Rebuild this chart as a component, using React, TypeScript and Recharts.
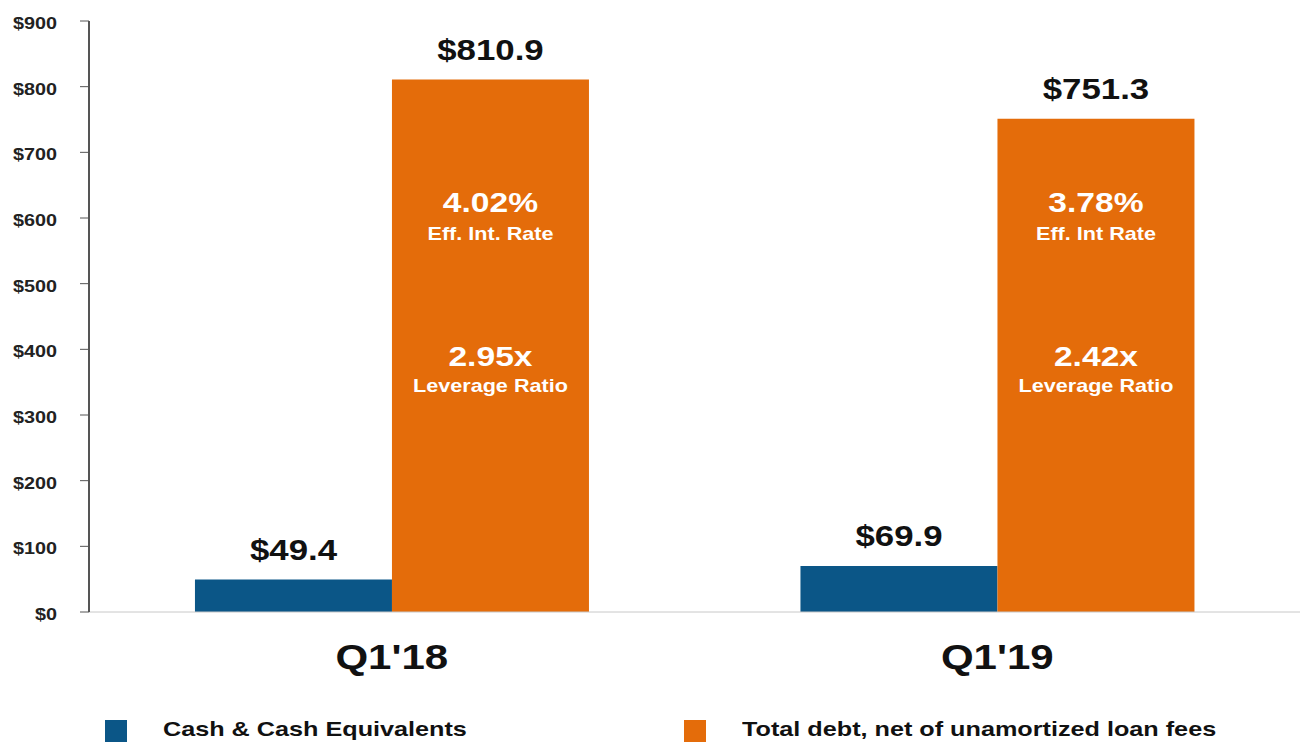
import React from 'react';
import { BarChart, Bar, XAxis, YAxis, LabelList } from 'recharts';

const quarters = ["Q1'18", "Q1'19"];
const cashValues = [49.4, 69.9];
const debtValues = [810.9, 751.3];
const rateLabels = ['4.02%', '3.78%'];
const rateCaptions = ['Eff. Int. Rate', 'Eff. Int Rate'];
const leverageLabels = ['2.95x', '2.42x'];
const leverageCaption = 'Leverage Ratio';
const yTicks = [0, 100, 200, 300, 400, 500, 600, 700, 800, 900];

const BLUE = '#0b5687';
const ORANGE = '#e46c0a';
const FONT = 'Liberation Sans, Arial, sans-serif';
const STRETCH = 1.2; // the source text is drawn a bit wide

const data = quarters.map((q, i) => ({
  quarter: q,
  cash: cashValues[i],
  debt: debtValues[i],
  rate: rateLabels[i],
  rateCaption: rateCaptions[i],
  leverage: leverageLabels[i],
}));

const WideText = ({ x, y, size, fill = '#111', anchor = 'middle', children }: any) => (
  <text transform={`translate(${x},${y}) scale(${STRETCH},1)`} textAnchor={anchor}
    fontFamily={FONT} fontWeight="bold" fontSize={size} fill={fill}>
    {children}
  </text>
);

const valueLabel = (props: any) => {
  const { x, y, width, value } = props;
  return <WideText x={x + width / 2} y={y - 20} size={29}>${value.toFixed(1)}</WideText>;
};

const innerLabel = (props: any) => {
  const { x, y, width, height, index } = props;
  const cx = x + width / 2;
  const base = y + height;
  const d = data[index];
  return (
    <g>
      <WideText x={cx} y={base - 400} size={28} fill="#fff">{d.rate}</WideText>
      <WideText x={cx} y={base - 372} size={18} fill="#fff">{d.rateCaption}</WideText>
      <WideText x={cx} y={base - 246} size={28} fill="#fff">{d.leverage}</WideText>
      <WideText x={cx} y={base - 220} size={18} fill="#fff">{leverageCaption}</WideText>
    </g>
  );
};

const YTick = (props: any) => {
  const { x, y, payload } = props;
  return <WideText x={x} y={y + 8} size={16.5} fill="#222" anchor="end">${payload.value}</WideText>;
};

const XTick = (props: any) => {
  const { x, y, payload } = props;
  return <WideText x={x} y={y + 51} size={35}>{payload.value}</WideText>;
};

const legendItems = [
  { label: 'Cash & Cash Equivalents', color: BLUE, left: 105, textLeft: 163 },
  { label: 'Total debt, net of unamortized loan fees', color: ORANGE, left: 684, textLeft: 742 },
];

export default function App() {
  return (
    <div style={{ position: 'absolute', left: 0, top: 0, width: 1302, height: 745, background: '#fff' }}>
      <BarChart width={1302} height={745} data={data}
        margin={{ top: 21, right: 2, left: 0, bottom: 53 }}
        barCategoryGap="17.5%" barGap={0}>
        <XAxis dataKey="quarter" height={80} tickLine={false}
          axisLine={{ stroke: '#c8c8c8', strokeWidth: 1 }}
          tick={<XTick />} tickMargin={0} />
        <YAxis width={89} domain={[0, 900]} ticks={yTicks} interval={0}
          axisLine={{ stroke: '#555', strokeWidth: 2 }}
          tickLine={{ stroke: '#555', strokeWidth: 1 }} tickSize={9} tickMargin={23}
          tick={<YTick />} />
        <Bar dataKey="cash" fill={BLUE} isAnimationActive={false}>
          <LabelList dataKey="cash" content={valueLabel} />
        </Bar>
        <Bar dataKey="debt" fill={ORANGE} isAnimationActive={false}>
          <LabelList dataKey="debt" content={valueLabel} />
          <LabelList dataKey="debt" content={innerLabel} />
        </Bar>
      </BarChart>
      {legendItems.map((it) => (
        <React.Fragment key={it.label}>
          <div style={{ position: 'absolute', left: it.left, top: 720, width: 22, height: 22, background: it.color }} />
          <div style={{
            position: 'absolute', left: it.textLeft, top: 717, fontFamily: FONT, fontWeight: 'bold',
            fontSize: 21, color: '#111', whiteSpace: 'nowrap', transform: `scaleX(${STRETCH})`, transformOrigin: 'left',
          }}>
            {it.label}
          </div>
        </React.Fragment>
      ))}
    </div>
  );
}
